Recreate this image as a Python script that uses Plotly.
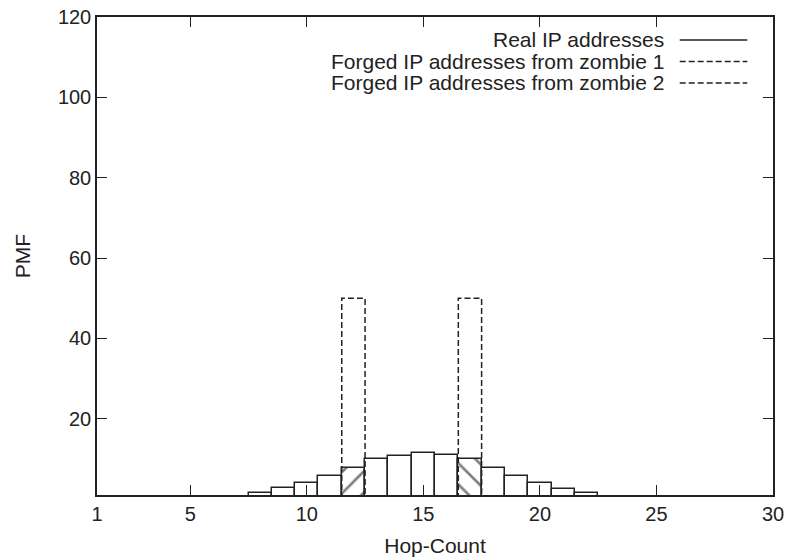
import plotly.graph_objects as go

# ---- data ----
hop_counts = [8, 9, 10, 11, 12, 13, 14, 15, 16, 17, 18, 19, 20, 21, 22]
real_pmf = [1.4, 2.7, 4.0, 5.8, 7.8, 9.9, 10.8, 11.5, 10.9, 9.9, 7.7, 5.8, 4.1, 2.6, 1.4]
zombie1_hops = [12]
zombie1_pmf = [50]
zombie2_hops = [17]
zombie2_pmf = [50]
x_ticks = [1, 5, 10, 15, 20, 25, 30]
y_ticks = [20, 40, 60, 80, 100, 120]
legend_labels = ["Real IP addresses",
                 "Forged IP addresses from zombie 1",
                 "Forged IP addresses from zombie 2"]

FONT = "Liberation Sans, Arial, sans-serif"
INK = "#222222"

# hatch the real bars that coincide with forged hop-counts
patterns = []
for h in hop_counts:
    if h in zombie1_hops:
        patterns.append("/")
    elif h in zombie2_hops:
        patterns.append("\\")
    else:
        patterns.append("")

fig = go.Figure()


def outline(hops, vals):
    xs, ys = [], []
    for h, v in zip(hops, vals):
        xs += [h - 0.5, h - 0.5, h + 0.5, h + 0.5, None]
        ys += [0, v, v, 0, None]
    return xs, ys


for hops, vals in [(zombie1_hops, zombie1_pmf), (zombie2_hops, zombie2_pmf)]:
    xs, ys = outline(hops, vals)
    fig.add_trace(go.Scatter(x=xs, y=ys, mode="lines",
                             line=dict(color=INK, width=1.5, dash="6px,3px"),
                             hoverinfo="skip", showlegend=False))

fig.add_trace(go.Bar(
    x=hop_counts, y=real_pmf, width=1,
    marker=dict(color="white",
                line=dict(color=INK, width=1.5),
                pattern=dict(shape=patterns, fgcolor="#000000", bgcolor="white",
                             size=15, solidity=0.18, fillmode="overlay")),
    showlegend=False))

axis_common = dict(
    showline=True, linecolor=INK, linewidth=1.5, mirror="ticks",
    ticks="inside", ticklen=10, tickwidth=1.2, tickcolor=INK,
    showgrid=False, zeroline=False, automargin=False, layer="above traces",
    tickfont=dict(family=FONT, size=20, color=INK),
)

fig.update_layout(
    width=785, height=559,
    margin=dict(l=97, r=12, t=17, b=64),
    paper_bgcolor="white", plot_bgcolor="white",
    bargap=0,
    showlegend=False,
    xaxis=dict(range=[1, 30], tickvals=x_ticks,
               title=dict(text="Hop-Count", font=dict(family=FONT, size=21, color=INK),
                          standoff=15),
               **axis_common),
    yaxis=dict(range=[1, 120], tickvals=y_ticks,
               title=dict(text="PMF", font=dict(family=FONT, size=21, color=INK),
                          standoff=22),
               **axis_common),
)

# gnuplot-style key: right-aligned text, line sample to the right
row_y = [0.952, 0.907, 0.862]
dashes = ["solid", "6px,3px", "6px,3px"]
for label, yy, d in zip(legend_labels, row_y, dashes):
    fig.add_annotation(x=0.842, y=yy, xref="paper", yref="paper",
                       text=label, showarrow=False, xanchor="right", yanchor="middle",
                       font=dict(family=FONT, size=21, color=INK))
    fig.add_shape(type="line", xref="paper", yref="paper",
                  x0=0.862, x1=0.962, y0=yy, y1=yy,
                  line=dict(color=INK, width=1.5, dash=d))

fig.write_html("out.html")
